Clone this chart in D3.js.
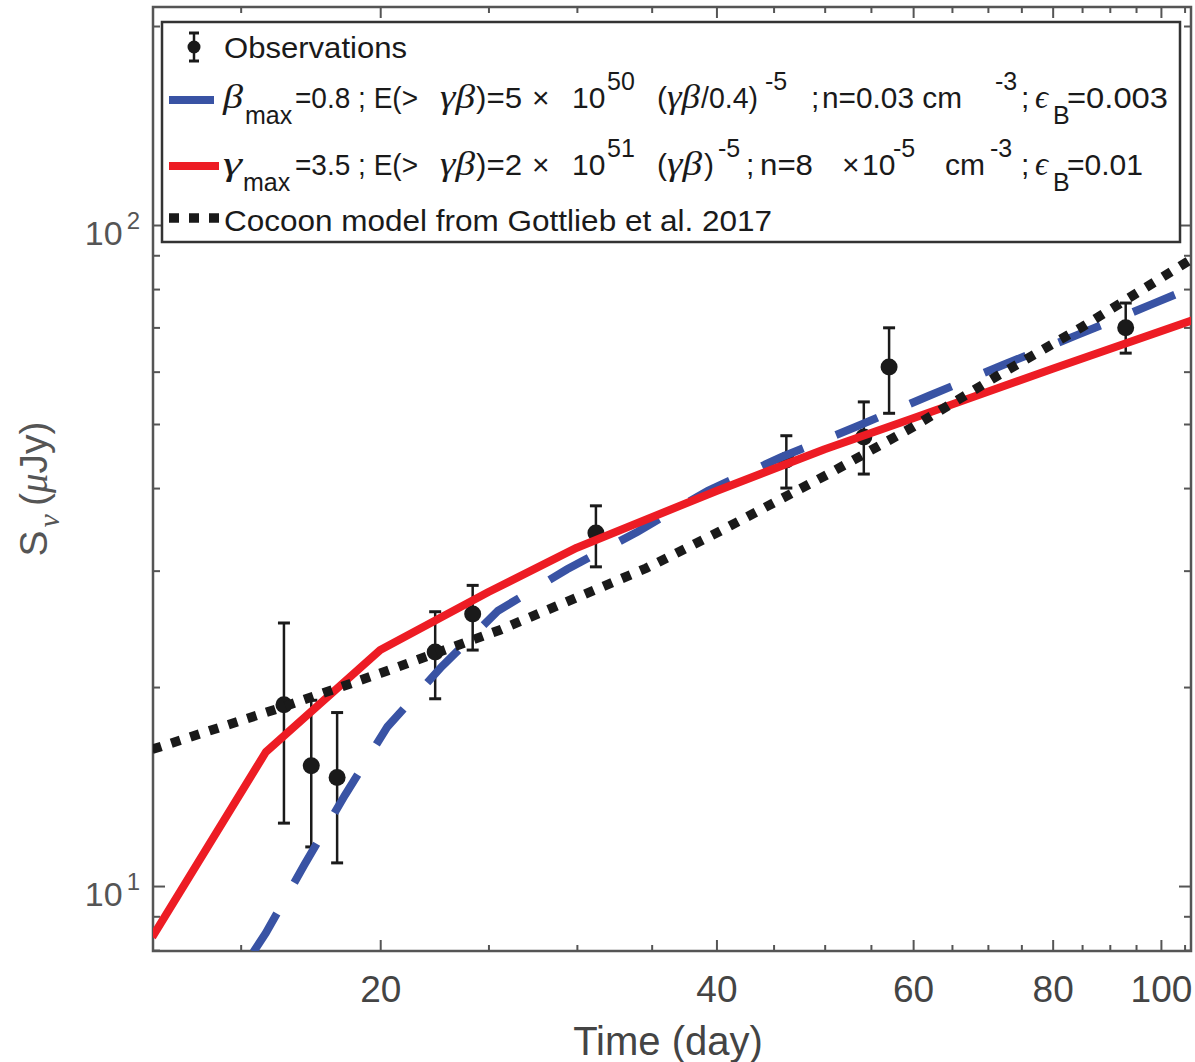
<!DOCTYPE html>
<html>
<head>
<meta charset="utf-8">
<title>radio light curve</title>
<script src="https://cdnjs.cloudflare.com/ajax/libs/d3/7.8.5/d3.min.js"></script>
<style>
body { margin: 0; background: #fff; }
svg { display: block; font-family: "Liberation Sans", Arial, sans-serif; }
.greek { font-family: "Liberation Serif", "DejaVu Serif", serif; font-style: italic; }
.axis line { stroke: #555; stroke-width: 2; }
</style>
</head>
<body>
<script>
// observations: time (day), flux (uJy), error bar top / bottom
var obsDay = [16.4, 17.35, 18.3, 22.4, 24.2, 31.2, 46.2, 54.2, 57.1, 93.0];
var obsFlux = [18.8, 15.2, 14.6, 22.6, 25.8, 34.2, 44.1, 47.8, 61.0, 69.9];
var obsHi = [25.0, 19.1, 18.3, 26.0, 28.5, 37.6, 48.0, 54.0, 69.9, 76.2];
var obsLo = [12.45, 11.46, 10.84, 19.2, 22.75, 30.4, 40.0, 42.0, 51.9, 64.0];

// beta_max = 0.8 model (blue dashed)
var blueDay = [15.4, 15.8, 17.1, 18.6, 20.3, 22.7, 25.5, 29.4, 34.0, 39.3, 45.7, 53.2, 62.0, 72.2, 84.2, 98.2, 107];
var blueFlux = [7.95, 8.49, 10.76, 13.73, 17.42, 21.47, 26.09, 30.14, 34.36, 39.63, 44.53, 49.43, 55.18, 61.4, 68.2, 75.9, 80.6];

// gamma_max = 3.5 model (red solid)
var redDay = [12.5, 15.8, 20, 25, 30, 40, 50, 60, 80, 107];
var redFlux = [8.37, 15.95, 22.75, 27.85, 32.5, 39.6, 45.8, 51.0, 60.6, 71.9];

// cocoon model (black dotted)
var cocoonDay = [12.5, 16.4, 20, 25.6, 34.6, 40, 50.5, 60, 71.2, 85.1, 107];
var cocoonFlux = [16.1, 18.68, 20.98, 24.4, 30.25, 34.2, 42.1, 49.5, 58.96, 70.2, 89.2];

// ticks
var xMajor = [20, 40, 60, 80, 100];
var xLabels = ["20", "40", "60", "80", "100"];
var xMinor = [15, 25, 30, 35, 45, 50, 55, 65, 70, 75, 85, 90, 95, 105];
var yMajor = [10, 100];
var yExponents = ["1", "2"];
var yMinor = [8, 9, 20, 30, 40, 50, 60, 70, 80, 90, 200];

var w = 1195;
var h = 1062;
var margin = {top: 7, left: 153, right: 4, bottom: 111};
var x0 = margin.left, x1 = w - margin.right, y0 = margin.top, y1 = h - margin.bottom;

var svg = d3.select("body").append("svg").attr("width", w).attr("height", h);
svg.append("rect").attr("width", w).attr("height", h).attr("fill", "#fff");

var x = d3.scaleLog().domain([12.52, 106.4]).range([x0, x1]);
var y = d3.scaleLog().domain([7.975, 213.7]).range([y1, y0]);

svg.append("clipPath").attr("id", "plot").append("rect")
	.attr("x", x0).attr("y", y0).attr("width", x1 - x0).attr("height", y1 - y0);

// axes, ticks pointing inward on all four sides
function tickGroup(axis, tx, ty) {
	var g = svg.append("g").attr("class", "axis").attr("transform", "translate(" + tx + "," + ty + ")").call(axis);
	g.select(".domain").remove();
	return g;
}
var xb = tickGroup(d3.axisBottom(x).tickValues(xMajor).tickSize(-11).tickPadding(25).tickFormat(function(d, i){ return xLabels[i]; }), 0, y1);
xb.attr("font-size", 37).attr("font-family", null);
xb.selectAll("text").attr("fill", "#444");
tickGroup(d3.axisBottom(x).tickValues(xMinor).tickSize(-6).tickFormat(""), 0, y1);
tickGroup(d3.axisTop(x).tickValues(xMajor).tickSize(-11).tickFormat(""), 0, y0);
tickGroup(d3.axisTop(x).tickValues(xMinor).tickSize(-6).tickFormat(""), 0, y0);
tickGroup(d3.axisLeft(y).tickValues(yMajor).tickSize(-12).tickFormat(""), x0, 0);
tickGroup(d3.axisLeft(y).tickValues(yMinor).tickSize(-7).tickFormat(""), x0, 0);
tickGroup(d3.axisRight(y).tickValues(yMajor).tickSize(-12).tickFormat(""), x1, 0);
tickGroup(d3.axisRight(y).tickValues(yMinor).tickSize(-7).tickFormat(""), x1, 0);

// y tick labels 10^n
var yl = svg.selectAll(".ylab").data(yMajor).enter().append("text")
	.attr("class", "ylab")
	.attr("x", 140).attr("y", function(d){ return y(d) + 20; })
	.attr("text-anchor", "end").attr("fill", "#555").attr("font-size", 34);
yl.append("tspan").text("10");
yl.append("tspan").attr("dy", -16).attr("dx", 4).attr("font-size", 24).text(function(d, i){ return yExponents[i]; });

// frame
svg.append("rect").attr("x", x0).attr("y", y0).attr("width", x1 - x0).attr("height", y1 - y0)
	.attr("fill", "none").attr("stroke", "#555").attr("stroke-width", 2.5);

// axis titles
svg.append("text").attr("x", 668).attr("y", 1055).attr("text-anchor", "middle")
	.attr("font-size", 40).attr("fill", "#444").text("Time (day)");

var yt = svg.append("text").attr("transform", "translate(47,489) rotate(-90)")
	.attr("text-anchor", "middle").attr("font-size", 39).attr("fill", "#555");
yt.append("tspan").text("S");
yt.append("tspan").attr("class", "greek").attr("font-size", 30).attr("dx", 3).attr("dy", 12).text("ν");
yt.append("tspan").attr("dx", 8).attr("dy", -12).text("(");
yt.append("tspan").attr("class", "greek").text("μ");
yt.append("tspan").text("Jy)");

// observations with error bars
var plot = svg.append("g").attr("clip-path", "url(#plot)");
var obs = d3.range(obsDay.length);
plot.selectAll(".ebar").data(obs).enter().append("line")
	.attr("x1", function(i){ return x(obsDay[i]); }).attr("x2", function(i){ return x(obsDay[i]); })
	.attr("y1", function(i){ return y(obsHi[i]); }).attr("y2", function(i){ return y(obsLo[i]); })
	.attr("stroke", "#1a1a1a").attr("stroke-width", 2.5);
[obsHi, obsLo].forEach(function(arr){
	plot.selectAll(null).data(obs).enter().append("line")
		.attr("x1", function(i){ return x(obsDay[i]) - 6; }).attr("x2", function(i){ return x(obsDay[i]) + 6; })
		.attr("y1", function(i){ return y(arr[i]); }).attr("y2", function(i){ return y(arr[i]); })
		.attr("stroke", "#1a1a1a").attr("stroke-width", 3);
});
plot.selectAll(".dot").data(obs).enter().append("circle")
	.attr("cx", function(i){ return x(obsDay[i]); }).attr("cy", function(i){ return y(obsFlux[i]); })
	.attr("r", 8.5).attr("fill", "#1a1a1a");

// model curves
var line = d3.line().x(function(d){ return x(d[0]); }).y(function(d){ return y(d[1]); });
plot.append("path").datum(d3.zip(blueDay, blueFlux)).attr("d", line)
	.attr("fill", "none").attr("stroke", "#3953a4").attr("stroke-width", 8).attr("stroke-dasharray", "45,35.4");
plot.append("path").datum(d3.zip(redDay, redFlux)).attr("d", line)
	.attr("fill", "none").attr("stroke", "#ed1c24").attr("stroke-width", 8).attr("stroke-linejoin", "round");
plot.append("path").datum(d3.zip(cocoonDay, cocoonFlux)).attr("d", line)
	.attr("fill", "none").attr("stroke", "#1a1a1a").attr("stroke-width", 9.5).attr("stroke-dasharray", "9.5,10.5");

// legend
var lg = svg.append("g");
lg.append("rect").attr("x", 162).attr("y", 22).attr("width", 1018).attr("height", 220)
	.attr("fill", "#fff").attr("stroke", "#333").attr("stroke-width", 2.5);

lg.append("line").attr("x1", 194).attr("x2", 194).attr("y1", 33).attr("y2", 61).attr("stroke", "#1a1a1a").attr("stroke-width", 2.5);
lg.append("line").attr("x1", 189).attr("x2", 199).attr("y1", 33).attr("y2", 33).attr("stroke", "#1a1a1a").attr("stroke-width", 3);
lg.append("line").attr("x1", 189).attr("x2", 199).attr("y1", 61).attr("y2", 61).attr("stroke", "#1a1a1a").attr("stroke-width", 3);
lg.append("circle").attr("cx", 194).attr("cy", 47).attr("r", 6.5).attr("fill", "#1a1a1a");

lg.append("line").attr("x1", 169).attr("x2", 219).attr("y1", 100).attr("y2", 100)
	.attr("stroke", "#3953a4").attr("stroke-width", 8).attr("stroke-dasharray", "45,35.4");
lg.append("line").attr("x1", 169).attr("x2", 219).attr("y1", 166).attr("y2", 166)
	.attr("stroke", "#ed1c24").attr("stroke-width", 8);
lg.append("line").attr("x1", 169).attr("x2", 219).attr("y1", 218).attr("y2", 218)
	.attr("stroke", "#1a1a1a").attr("stroke-width", 9.5).attr("stroke-dasharray", "10,10");

var row1 = [["Observations", 224, "n", 183]];
var row2 = [["β", 223, "g", 20], ["max", 245, "sub"], ["=0.8 ; E(>", 295, "n", 123], ["γβ", 440, "g", 35],
	[")=5", 476, "n", 46], ["×", 532, "n"], ["10", 572, "n"], ["50", 607, "sup"], ["(", 657, "n"],
	["γβ", 667, "g", 33], ["/0.4)", 701, "n", 57], ["-5", 765, "sup"], [";", 811, "n"],
	["n=0.03 cm", 822, "n", 140], ["-3", 995, "sup"], [";", 1021, "n"], ["ϵ", 1035, "g", 13],
	["B", 1053, "sub"], ["=0.003", 1067, "n", 101]];
var row3 = [["γ", 223, "g", 19], ["max", 243, "sub"], ["=3.5 ; E(>", 295, "n", 123], ["γβ", 440, "g", 35],
	[")=2", 476, "n", 46], ["×", 532, "n"], ["10", 572, "n"], ["51", 607, "sup"], ["(", 657, "n"],
	["γβ", 667, "g", 35], [")", 704, "n"], ["-5", 718, "sup"], [";", 746, "n"], ["n=8", 760, "n", 53],
	["×", 842, "n"], ["10", 862, "n"], ["-5", 893, "sup"], ["cm", 945, "n", 40], ["-3", 990, "sup"],
	[";", 1021, "n"], ["ϵ", 1035, "g", 13], ["B", 1053, "sub"], ["=0.01", 1067, "n", 76]];
var row4 = [["Cocoon model from Gottlieb et al. 2017", 224, "n", 548]];

function legendRow(row, base) {
	row.forEach(function(s){
		var t = lg.append("text").attr("x", s[1]).attr("fill", "#1a1a1a").text(s[0]);
		if (s[2] == "sup") t.attr("y", base - 18).attr("font-size", 25);
		else if (s[2] == "sub") t.attr("y", base + 16).attr("font-size", 25);
		else if (s[2] == "g") t.attr("y", base).attr("font-size", 33).attr("class", "greek");
		else t.attr("y", base).attr("font-size", 30);
		if (s[3]) t.attr("textLength", s[3]).attr("lengthAdjust", "spacingAndGlyphs");
	});
}
legendRow(row1, 58);
legendRow(row2, 108);
legendRow(row3, 175);
legendRow(row4, 231);
</script>
</body>
</html>
